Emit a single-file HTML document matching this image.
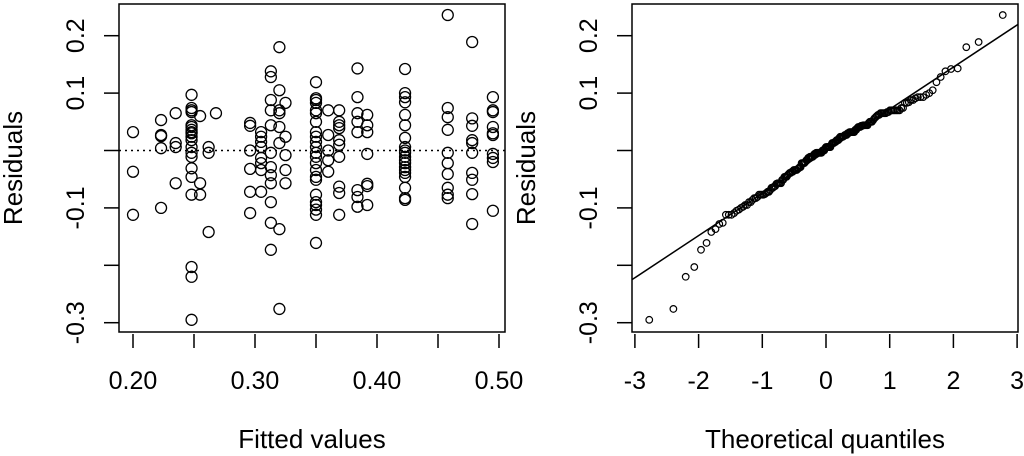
<!DOCTYPE html>
<html><head><meta charset="utf-8"><style>
html,body{margin:0;padding:0;background:#fff;}
svg{display:block;font-family:"Liberation Sans",sans-serif;}
</style></head><body>
<svg id="chart" width="1024" height="456" viewBox="0 0 1024 456">
<g id="left"></g>
<g id="right"></g>
</svg>
<script>
const fittedGroups = [0.200,0.223,0.235,0.248,0.255,0.262,0.268,0.296,0.305,0.313,0.320,0.325,0.350,0.360,0.369,0.384,0.392,0.423,0.458,0.478,0.495];
const residualGroups = [
 [0.032,-0.037,-0.112],
 [0.053,0.027,0.025,0.004,-0.100],
 [0.065,0.013,0.006,-0.057],
 [0.097,0.074,0.070,0.067,0.044,0.041,0.036,0.032,0.030,0.024,0.018,0.006,-0.004,-0.011,-0.031,-0.046,-0.077,-0.203,-0.220,-0.295],
 [0.060,-0.057,-0.077],
 [0.006,-0.004,-0.142],
 [0.065],
 [0.048,0.043,0.000,-0.032,-0.072,-0.109],
 [0.032,0.024,0.015,0.006,-0.013,-0.022,-0.034,-0.072],
 [0.128,0.138,0.088,0.070,0.044,-0.004,-0.029,-0.043,-0.057,-0.090,-0.126,-0.173],
 [0.180,0.105,0.070,0.065,0.041,0.013,-0.137,-0.276],
 [0.083,0.024,-0.008,-0.034,-0.057],
 [0.119,0.091,0.088,0.083,0.070,0.065,0.050,0.032,0.024,0.015,0.006,-0.004,-0.011,-0.022,-0.034,-0.046,-0.051,-0.077,-0.090,-0.095,-0.103,-0.112,-0.161],
 [0.070,0.027,0.000,-0.017,-0.037],
 [0.070,0.050,0.044,0.039,0.018,0.010,-0.011,-0.063,-0.074,-0.112],
 [0.143,0.093,0.065,0.050,0.032,-0.069,-0.081,-0.098],
 [0.062,0.044,0.032,-0.006,-0.058,-0.062,-0.095],
 [0.142,0.100,0.093,0.084,0.062,0.044,0.022,0.006,0.000,-0.004,-0.011,-0.017,-0.022,-0.029,-0.034,-0.039,-0.046,-0.065,-0.083,-0.086],
 [0.236,0.074,0.058,0.036,-0.004,-0.022,-0.041,-0.065,-0.077,-0.083],
 [0.189,0.056,0.043,0.018,0.013,-0.004,-0.039,-0.051,-0.076,-0.128],
 [0.093,0.070,0.067,0.041,0.030,0.027,-0.006,-0.013,-0.020,-0.105]
];
const fittedTicks = [0.20,0.25,0.30,0.35,0.40,0.45,0.50];
const fittedTickLabels = ["0.20","","0.30","","0.40","","0.50"];
const residTicks = [-0.3,-0.2,-0.1,0.0,0.1,0.2];
const residTickLabels = ["-0.3","","-0.1","","0.1","0.2"];
const qTicks = [-3,-2,-1,0,1,2,3];
const qTickLabels = ["-3","-2","-1","0","1","2","3"];

const NS="http://www.w3.org/2000/svg";
function mk(tag,attrs,parent){const e=document.createElementNS(NS,tag);for(const k in attrs)e.setAttribute(k,attrs[k]);parent.appendChild(e);return e;}
const yR = v => 150.5 - v*574;
const xF = v => 133 + (v-0.20)*1220;
const xQ = v => 826 + v*63.7;

function qnorm(p){
 const a=[-39.6968302866538,220.946098424521,-275.928510446969,138.357751867269,-30.6647980661472,2.50662827745924];
 const b=[-54.4760987982241,161.585836858041,-155.698979859887,66.8013118877197,-13.2806815528857];
 const c=[-0.00778489400243029,-0.322396458041136,-2.40075827716184,-2.54973253934373,4.37466414146497,2.93816398269878];
 const d=[0.00778469570904146,0.32246712907004,2.445134137143,3.75440866190742];
 let q,r;
 if(p<0.02425){q=Math.sqrt(-2*Math.log(p));return (((((c[0]*q+c[1])*q+c[2])*q+c[3])*q+c[4])*q+c[5])/((((d[0]*q+d[1])*q+d[2])*q+d[3])*q+1);}
 if(p>1-0.02425){q=Math.sqrt(-2*Math.log(1-p));return -(((((c[0]*q+c[1])*q+c[2])*q+c[3])*q+c[4])*q+c[5])/((((d[0]*q+d[1])*q+d[2])*q+d[3])*q+1);}
 q=p-0.5;r=q*q;return (((((a[0]*r+a[1])*r+a[2])*r+a[3])*r+a[4])*r+a[5])*q/(((((b[0]*r+b[1])*r+b[2])*r+b[3])*r+b[4])*r+1);
}

function frame(g,x0,x1,name){
 const b=mk('rect',{x:x0,y:4,width:x1-x0,height:328,fill:'none',stroke:'#000','stroke-width':1.5},g);
 
 
 residTicks.forEach((t,i)=>{
  const y=yR(t);
  const l=mk('line',{x1:x0-15,x2:x0,y1:y,y2:y,stroke:'#000','stroke-width':1.5},g);
  
  
  if(residTickLabels[i]){
   const tx=mk('text',{x:x0-35,y:y,'font-size':25,'text-anchor':'middle',transform:`rotate(-90 ${x0-35} ${y})`},g);
   tx.textContent=residTickLabels[i];
   
   
  }
 });
 const yl=x0-97;
 const yt=mk('text',{x:yl,y:168,'font-size':26,'text-anchor':'middle',transform:`rotate(-90 ${yl} 168)`},g);
 yt.textContent='Residuals';
 
 
}

const L=document.getElementById('left');
frame(L,119,505,'left');
fittedTicks.forEach((t,i)=>{
 const x=xF(t);
 const l=mk('line',{x1:x,x2:x,y1:334,y2:348,stroke:'#000','stroke-width':1.5},L);
 
 
 if(fittedTickLabels[i]){
  const tx=mk('text',{x:x,y:389,'font-size':25,'text-anchor':'middle'},L);
  tx.textContent=fittedTickLabels[i];
  
  
 }
});
const xt=mk('text',{x:312,y:448,'font-size':26,'text-anchor':'middle'},L);
xt.textContent='Fitted values';


const zl=mk('line',{x1:119,x2:505,y1:yR(0),y2:yR(0),stroke:'#000','stroke-width':1.5,'stroke-dasharray':'2,4'},L);


const all=[];
fittedGroups.forEach((f,i)=>{
 residualGroups[i].forEach(r=>{
  all.push(r);
  const c=mk('circle',{cx:xF(f),cy:yR(r),r:5.5,fill:'none',stroke:'#000','stroke-width':1.3},L);
  
  
 });
});

const R=document.getElementById('right');
frame(R,632,1018,'right');
qTicks.forEach((t,i)=>{
 const x=xQ(t);
 const l=mk('line',{x1:x,x2:x,y1:334,y2:348,stroke:'#000','stroke-width':1.5},R);
 
 
 const tx=mk('text',{x:x,y:389,'font-size':25,'text-anchor':'middle'},R);
 tx.textContent=qTickLabels[i];
 
 
});
const xt2=mk('text',{x:825,y:448,'font-size':26,'text-anchor':'middle'},R);
xt2.textContent='Theoretical quantiles';


const s=all.slice().sort((a,b)=>a-b);
const n=s.length;
function quant(p){const h=(n-1)*p,lo=Math.floor(h);return s[lo]+(h-lo)*((s[lo+1]??s[lo])-s[lo]);}
const y1=quant(0.25),y2=quant(0.75),x1=qnorm(0.25),x2=qnorm(0.75);
const slope=(y2-y1)/(x2-x1),icpt=y1-slope*x1;
const ql=mk('line',{x1:632,x2:1018,y1:yR(icpt+slope*((632-826)/63.7)),y2:yR(icpt+slope*((1018-826)/63.7)),stroke:'#000','stroke-width':1.5},R);


s.forEach((r,i)=>{
 const q=qnorm((i+0.5)/n);
 const c=mk('circle',{cx:xQ(q),cy:yR(r),r:3.3,fill:'none',stroke:'#000','stroke-width':1.2},R);
 
 
});
</script>
</body></html>
